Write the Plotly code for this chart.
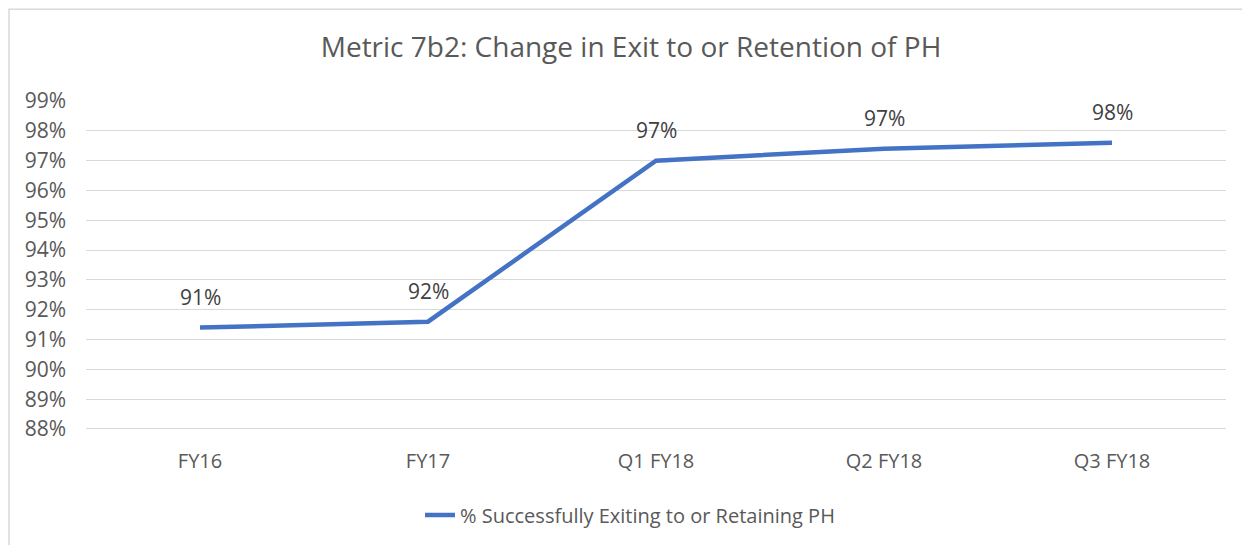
import plotly.graph_objects as go

categories = ["FY16", "FY17", "Q1 FY18", "Q2 FY18", "Q3 FY18"]
values = [91.4, 91.6, 97.0, 97.4, 97.6]
labels = ["91%", "92%", "97%", "97%", "98%"]
y_ticks = list(range(88, 100))
y_tick_text = [f"{v}%" for v in y_ticks]
series_name = "% Successfully Exiting to or Retaining PH"
title_text = "Metric 7b2: Change in Exit to or Retention of PH"

# page is rendered with an 8px body margin; work in page pixel coords and shift
OFF = 8
W, H = 1250 - OFF, 545 - OFF
PL, PT, PR, PB = 86, 101, 1226, 430  # plot area in page pixels
L, T = PL - OFF, PT - OFF
R, B = W - (PR - OFF), H - (PB - OFF)
pw, ph = W - L - R, H - T - B

def px_x(x):
    return (x - OFF - L) / pw

def px_y(y):
    return (H - B - (y - OFF)) / ph

FONT = "Open Sans"

fig = go.Figure()
fig.add_trace(go.Scatter(
    x=categories, y=values, mode="lines", name=series_name,
    line=dict(color="#4472C4", width=4.5, shape="linear"),
    hoverinfo="skip",
))

for c, v, t in zip(categories, values, labels):
    fig.add_annotation(x=c, y=v, text=t, showarrow=False, yshift=31,
                       xanchor="center", yanchor="middle",
                       font=dict(family=FONT, size=21, color="#404040"))

fig.add_shape(type="rect", xref="paper", yref="paper",
              x0=px_x(9), x1=px_x(1265), y0=px_y(9), y1=px_y(565),
              line=dict(color="#D9D9D9", width=1.5), fillcolor="rgba(0,0,0,0)",
              layer="below")

fig.update_layout(
    width=W, height=H,
    margin=dict(l=L, r=R, t=T, b=B, pad=0),
    paper_bgcolor="white", plot_bgcolor="white",
    title=dict(text=title_text, x=(631 - OFF) / W, xanchor="center",
               y=1 - (47 - OFF) / H, yanchor="middle", yref="container",
               font=dict(family=FONT, size=28, color="#595959")),
    showlegend=True,
    legend=dict(orientation="h", x=px_x(630), xanchor="center",
                y=px_y(515), yanchor="middle",
                font=dict(family=FONT, size=20, color="#595959"),
                bgcolor="rgba(0,0,0,0)"),
    xaxis=dict(type="category", range=[-0.5, 4.5], showgrid=False,
               showline=False, zeroline=False, ticks="",
               tickfont=dict(family=FONT, size=20, color="#595959"),
               ticklabelstandoff=18,
               fixedrange=True),
    yaxis=dict(range=[88, 99], tickvals=y_ticks, ticktext=y_tick_text,
               showgrid=True, gridcolor="#D9D9D9", gridwidth=1,
               zeroline=False, showline=False, ticks="",
               tickfont=dict(family=FONT, size=21, color="#595959"),
               ticklabelstandoff=19,
               fixedrange=True),
)

fig.add_shape(type="line", xref="paper", yref="y", x0=0, x1=1, y0=88, y1=88,
              line=dict(color="#D9D9D9", width=2), layer="below")

fig.write_html("out.html")
